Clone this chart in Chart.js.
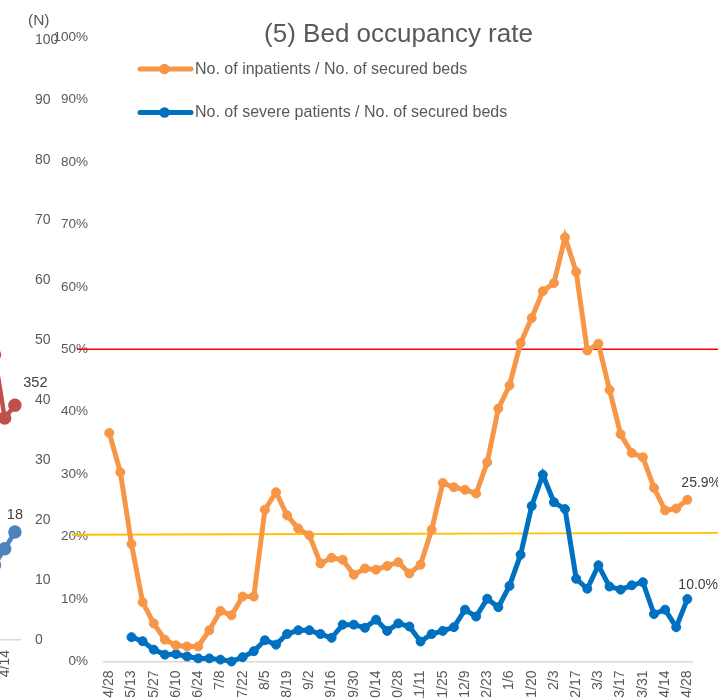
<!DOCTYPE html>
<html><head><meta charset="utf-8">
<script src="https://cdn.jsdelivr.net/npm/chart.js@4.4.1/dist/chart.umd.min.js"></script>
<style>
html,body{margin:0;padding:0;background:#fff;overflow:hidden;width:718px;height:698px;}
#wrap{position:relative;width:718px;height:698px;overflow:hidden;background:#fff;}
#leftBox{position:absolute;left:-40px;top:0;width:100px;height:698px;}
#mainBox{position:absolute;left:0;top:0;width:718px;height:698px;}
</style></head>
<body><div id="wrap"><div id="leftBox"><canvas id="left"></canvas></div><div id="mainBox"><canvas id="main"></canvas></div></div>
<script>
// ---------- main chart data ----------
const categories = ["4/28","5/6","5/13","5/20","5/27","6/3","6/10","6/17","6/24","7/1","7/8","7/15","7/22","7/29","8/5","8/12","8/19","8/26","9/2","9/9","9/16","9/23","9/30","10/7","10/14","10/21","10/28","11/4","11/11","11/18","11/25","12/2","12/9","12/16","12/23","12/30","1/6","1/13","1/20","1/27","2/3","2/10","2/17","2/24","3/3","3/10","3/17","3/24","3/31","4/7","4/14","4/21","4/28"];
const inpatientRate = [36.6,30.3,18.8,9.5,6.1,3.5,2.6,2.4,2.4,5.0,8.1,7.4,10.4,10.4,24.3,27.1,23.4,21.3,20.2,15.7,16.6,16.3,13.9,14.9,14.7,15.3,15.9,14.1,15.5,21.1,28.6,27.9,27.5,26.9,31.9,40.5,44.2,51.0,55.0,59.3,60.6,67.9,62.4,49.8,50.9,43.5,36.4,33.4,32.7,27.8,24.2,24.5,25.9];
const severeRate = [null,null,3.9,3.25,1.9,1.1,1.2,0.8,0.5,0.5,0.3,0.0,0.7,1.65,3.4,2.7,4.4,5.0,5.0,4.4,3.8,5.9,5.9,5.4,6.7,4.9,6.1,5.6,3.2,4.4,4.9,5.5,8.3,7.2,10.05,8.7,12.1,17.1,24.9,29.9,25.5,24.4,13.25,11.65,15.4,12.0,11.5,12.2,12.7,7.6,8.3,5.5,10.0];
const seriesNames = ["No. of inpatients / No. of secured beds","No. of severe patients / No. of secured beds"];
const lastLabels = ["25.9%","10.0%"];
const refRed = [50, 50];
const refYellow = [20.3, 20.6];
const titleText = "(5) Bed occupancy rate";

// ---------- left (neighbouring) chart data ----------
const leftCategories = ["3/24","3/31","4/7","4/14","4/21"];
const leftBlue = [null,null,12.5,15.2,18];
const leftRed = [null,null,428,333,352];
const leftLastLabels = ["352","18"];

Chart.defaults.font.family = "'Liberation Sans', Arial, sans-serif";
Chart.defaults.color = '#595959';

const ORANGE = '#F79646', BLUE = '#0070C0';

const overlay = {
  id: 'overlay',
  beforeDatasetsDraw(chart) {
    const ctx = chart.ctx, y = chart.scales.y;
    ctx.save();
    ctx.lineWidth = 1.6; ctx.strokeStyle = '#FF0000';
    ctx.beginPath(); ctx.moveTo(77, y.getPixelForValue(refRed[0])); ctx.lineTo(chart.width, y.getPixelForValue(refRed[1])); ctx.stroke();
    ctx.lineWidth = 1.8; ctx.strokeStyle = '#FFC000';
    ctx.beginPath(); ctx.moveTo(72, y.getPixelForValue(refYellow[0])); ctx.lineTo(chart.width, y.getPixelForValue(refYellow[1])); ctx.stroke();
    ctx.restore();
  },
  afterDatasetsDraw(chart) {
    const ctx = chart.ctx;
    ctx.save();
    ctx.font = "14px 'Liberation Sans', Arial, sans-serif";
    ctx.fillStyle = '#404040';
    ctx.textAlign = 'left'; ctx.textBaseline = 'middle';
    const offs = [[-6,-17],[-9,-13.5]];
    chart.data.datasets.forEach((ds, i) => {
      const meta = chart.getDatasetMeta(i);
      const pt = meta.data[meta.data.length - 1];
      ctx.fillText(lastLabels[i], pt.x + offs[i][0], pt.y + offs[i][1]);
    });
    // title
    ctx.fillStyle = '#595959';
    ctx.textAlign = 'center';
    ctx.font = "26px 'Liberation Sans', Arial, sans-serif";
    ctx.fillText(titleText, 398.5, 35);
    // legend
    ctx.font = "16px 'Liberation Sans', Arial, sans-serif";
    ctx.textAlign = 'left';
    chart.data.datasets.forEach((ds, i) => {
      const ly = 69 + i * 43.5;
      ctx.strokeStyle = ds.borderColor; ctx.lineWidth = 5; ctx.lineCap = 'round';
      ctx.beginPath(); ctx.moveTo(140, ly); ctx.lineTo(191, ly); ctx.stroke();
      ctx.fillStyle = ds.borderColor;
      ctx.beginPath(); ctx.arc(164.5, ly, 5.2, 0, Math.PI * 2); ctx.fill();
      ctx.fillStyle = '#595959';
      ctx.fillText(ds.label, 195, ly + 0.5);
    });
    ctx.restore();
  }
};

new Chart(document.getElementById('main'), {
  type: 'line',
  data: {
    labels: categories,
    datasets: [
      {label: seriesNames[0], data: inpatientRate, borderColor: ORANGE, backgroundColor: ORANGE, borderWidth: 5, pointRadius: 4.5, pointBorderWidth: 1, pointBackgroundColor: ORANGE, pointBorderColor: ORANGE, tension: 0, clip: false},
      {label: seriesNames[1], data: severeRate, borderColor: BLUE, backgroundColor: BLUE, borderWidth: 5, pointRadius: 4.5, pointBorderWidth: 1, pointBackgroundColor: BLUE, pointBorderColor: BLUE, tension: 0, clip: false, spanGaps: false}
    ]
  },
  options: {
    responsive: true, maintainAspectRatio: false, animation: false,
    layout: {padding: {top: 37, right: 25.1, left: 0, bottom: 0}},
    plugins: {legend: {display: false}, title: {display: false}, tooltip: {enabled: false}},
    scales: {
      x: {
        type: 'category', offset: true,
        grid: {display: false, drawTicks: false},
        border: {display: true, color: '#D9D9D9', width: 1.5},
        ticks: {autoSkip: false, minRotation: 90, maxRotation: 90, padding: 9, color: '#595959',
          font: {size: 14},
          callback: (v, i) => (i % 2 === 0 ? categories[i] : '')},
        afterFit: (s) => { s.height = 36.5; }
      },
      y: {
        min: 0, max: 100,
        grid: {display: false, drawTicks: false},
        border: {display: false},
        ticks: {stepSize: 10, padding: 15.7, color: '#595959', font: {size: 13.5}, callback: (v) => v + '%'},
        afterFit: (s) => { s.width = 103.7; }
      }
    }
  },
  plugins: [overlay]
});

// ---------- left neighbouring chart (cut off at the image edge) ----------
const leftOverlay = {
  id: 'leftOverlay',
  afterDatasetsDraw(chart) {
    const ctx = chart.ctx;
    ctx.save();
    ctx.font = "14.5px 'Liberation Sans', Arial, sans-serif";
    ctx.fillStyle = '#404040';
    ctx.textAlign = 'center'; ctx.textBaseline = 'middle';
    const offs = [[20.5,-22],[0,-17]];
    [0,1].forEach(i => {
      const meta = chart.getDatasetMeta(i);
      const pt = meta.data[meta.data.length - 1];
      ctx.fillText(leftLastLabels[i], pt.x + offs[i][0], pt.y + offs[i][1]);
    });
    ctx.fillStyle = '#595959';
    ctx.font = "15.5px 'Liberation Sans', Arial, sans-serif";
    ctx.textAlign = 'left';
    ctx.fillText('(N)', 68, 21);
    ctx.restore();
  }
};

new Chart(document.getElementById('left'), {
  type: 'line',
  data: {
    labels: leftCategories,
    datasets: [
      {label: 'red', data: leftRed, yAxisID: 'y2', borderColor: '#C0504D', backgroundColor: '#C0504D', borderWidth: 4.5, pointRadius: 4.5, pointBackgroundColor: '#C0504D', pointBorderColor: '#C0504D', clip: false},
      {label: 'blue', data: leftBlue, yAxisID: 'y', borderColor: '#4F81BD', backgroundColor: '#4F81BD', borderWidth: 4.5, pointRadius: 4.5, pointBackgroundColor: '#4F81BD', pointBorderColor: '#4F81BD', clip: false}
    ]
  },
  options: {
    responsive: true, maintainAspectRatio: false, animation: false,
    layout: {padding: {top: 40, right: 0, left: 5, bottom: 0}},
    plugins: {legend: {display: false}, tooltip: {enabled: false}},
    scales: {
      x: {
        type: 'category', offset: true,
        grid: {display: false, drawTicks: false},
        border: {display: true, color: '#D9D9D9', width: 1.5},
        ticks: {autoSkip: false, minRotation: 90, maxRotation: 90, padding: 10, color: '#595959', font: {size: 14},
          callback: (v, i) => (i % 2 === 1 ? leftCategories[i] : '')},
        afterFit: (s) => { s.height = 58; }
      },
      y: {
        position: 'right', min: 0, max: 100,
        grid: {display: false, drawTicks: false},
        border: {display: false},
        ticks: {stepSize: 10, padding: 15, color: '#595959', font: {size: 14}},
        afterFit: (s) => { s.width = 40; }
      },
      y2: {position: 'left', min: 0, max: 900, display: false}
    }
  },
  plugins: [leftOverlay]
});
</script>
</body></html>
